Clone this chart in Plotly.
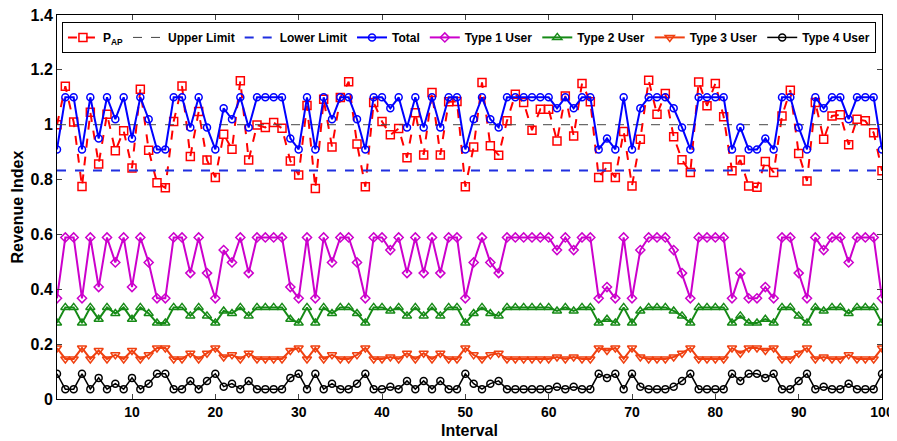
import plotly.graph_objects as go

intervals = list(range(1, 101))

p_ap = [1.00, 1.14, 1.01, 0.775, 1.045, 0.857, 1.038, 0.905, 0.978, 0.842,
        1.129, 0.907, 0.788, 0.77, 1.012, 1.141, 0.884, 1.048, 0.871, 0.808,
        0.965, 0.911, 1.16, 0.871, 0.999, 0.99, 1.008, 0.987, 0.868, 0.817,
        1.07, 0.767, 1.093, 0.919, 1.099, 1.157, 0.93, 0.774, 1.081, 1.012,
        0.963, 0.986, 0.88, 1.044, 0.89, 1.117, 0.89, 1.084, 1.085, 0.774,
        0.919, 1.154, 0.923, 0.889, 1.014, 1.111, 1.081, 0.98, 1.056, 1.056,
        0.941, 1.105, 0.959, 1.15, 1.084, 0.808, 0.846, 0.808, 0.975, 0.777,
        0.947, 1.162, 1.038, 1.114, 0.956, 0.872, 0.826, 1.156, 1.069, 1.15,
        1.029, 0.832, 0.871, 0.777, 0.772, 0.866, 0.826, 1.032, 1.126, 0.895,
        0.795, 1.081, 0.947, 1.032, 1.036, 0.927, 1.02, 1.014, 0.971, 0.832]

total = [0.91, 1.10, 1.10, 0.91, 1.10, 0.95, 1.10, 1.02, 1.10, 0.95,
         1.10, 1.02, 0.91, 0.91, 1.10, 1.10, 0.99, 1.10, 0.99, 0.91,
         1.06, 1.02, 1.10, 0.99, 1.10, 1.10, 1.10, 1.10, 0.95, 0.91,
         1.10, 0.91, 1.10, 1.02, 1.10, 1.10, 1.02, 0.91, 1.10, 1.10,
         1.06, 1.10, 0.99, 1.10, 0.99, 1.10, 0.99, 1.10, 1.10, 0.91,
         1.02, 1.10, 1.02, 0.99, 1.10, 1.10, 1.10, 1.10, 1.10, 1.10,
         1.06, 1.10, 1.06, 1.10, 1.10, 0.91, 0.95, 0.91, 1.10, 0.91,
         1.06, 1.10, 1.10, 1.10, 1.06, 0.99, 0.91, 1.10, 1.10, 1.10,
         1.10, 0.91, 0.99, 0.91, 0.91, 0.95, 0.91, 1.10, 1.10, 0.99,
         0.91, 1.10, 1.06, 1.10, 1.10, 1.02, 1.10, 1.10, 1.10, 0.91]

type1 = [.367, .589, .589, .367, .589, .408, .589, .498, .589, .408,
         .589, .498, .367, .367, .589, .589, .459, .589, .459, .367,
         .543, .498, .589, .459, .589, .589, .589, .589, .408, .367,
         .589, .367, .589, .498, .589, .589, .498, .367, .589, .589,
         .543, .589, .459, .589, .459, .589, .459, .589, .589, .367,
         .498, .589, .498, .459, .589, .589, .589, .589, .589, .589,
         .543, .589, .543, .589, .589, .367, .408, .367, .589, .367,
         .543, .589, .589, .589, .543, .459, .367, .589, .589, .589,
         .589, .367, .459, .367, .367, .408, .367, .589, .589, .459,
         .367, .589, .543, .589, .589, .498, .589, .589, .589, .367]

type2 = [.277, .334, .334, .277, .334, .291, .334, .312, .334, .291,
         .334, .312, .277, .277, .334, .334, .303, .334, .303, .277,
         .321, .312, .334, .303, .334, .334, .334, .334, .291, .277,
         .334, .277, .334, .312, .334, .334, .312, .277, .334, .334,
         .321, .334, .303, .334, .303, .334, .303, .334, .334, .277,
         .312, .334, .312, .303, .334, .334, .334, .334, .334, .334,
         .321, .334, .321, .334, .334, .277, .291, .277, .334, .277,
         .321, .334, .334, .334, .321, .303, .277, .334, .334, .334,
         .334, .277, .303, .277, .277, .291, .277, .334, .334, .303,
         .277, .334, .321, .334, .334, .312, .334, .334, .334, .277]

type3 = [.186, .146, .146, .186, .146, .177, .146, .161, .146, .177,
         .146, .161, .186, .186, .146, .146, .167, .146, .167, .186,
         .153, .161, .146, .167, .146, .146, .146, .146, .177, .186,
         .146, .186, .146, .161, .146, .146, .161, .186, .146, .146,
         .153, .146, .167, .146, .167, .146, .167, .146, .146, .186,
         .161, .146, .161, .167, .146, .146, .146, .146, .146, .146,
         .153, .146, .153, .146, .146, .186, .177, .186, .146, .186,
         .153, .146, .146, .146, .153, .167, .186, .146, .146, .146,
         .146, .186, .167, .186, .186, .177, .186, .146, .146, .167,
         .186, .146, .153, .146, .146, .161, .146, .146, .146, .186]

type4 = [.092, .036, .036, .092, .036, .077, .036, .056, .036, .077,
         .036, .056, .092, .092, .036, .036, .066, .036, .066, .092,
         .045, .056, .036, .066, .036, .036, .036, .036, .077, .092,
         .036, .092, .036, .056, .036, .036, .056, .092, .036, .036,
         .045, .036, .066, .036, .066, .036, .066, .036, .036, .092,
         .056, .036, .056, .066, .036, .036, .036, .036, .036, .036,
         .045, .036, .045, .036, .036, .092, .077, .092, .036, .092,
         .045, .036, .036, .036, .045, .066, .092, .036, .036, .036,
         .036, .092, .066, .092, .092, .077, .092, .036, .036, .066,
         .092, .036, .045, .036, .036, .056, .036, .036, .036, .092]

upper_limit = 1.0
lower_limit = 0.833

x_ticks = [10, 20, 30, 40, 50, 60, 70, 80, 90, 100]
y_ticks = [0, 0.2, 0.4, 0.6, 0.8, 1.0, 1.2, 1.4]
y_tick_labels = ["0", "0.2", "0.4", "0.6", "0.8", "1", "1.2", "1.4"]

fig = go.Figure()

fig.add_trace(go.Scatter(
    x=intervals, y=p_ap, name="P<sub>AP</sub>", mode="lines+markers",
    line=dict(color="#ff0000", width=2, dash="dash"),
    marker=dict(symbol="square-open", size=8, color="#ff0000", line=dict(width=1.5))))
fig.add_trace(go.Scatter(
    x=[intervals[0], intervals[-1]], y=[upper_limit, upper_limit], name="Upper Limit",
    mode="lines", line=dict(color="#444444", width=1, dash="dash")))
fig.add_trace(go.Scatter(
    x=[intervals[0], intervals[-1]], y=[lower_limit, lower_limit], name="Lower Limit",
    mode="lines", line=dict(color="#1f2fe0", width=2, dash="dash")))
fig.add_trace(go.Scatter(
    x=intervals, y=total, name="Total", mode="lines+markers",
    line=dict(color="#0000ff", width=2),
    marker=dict(symbol="circle-open", size=7, color="#0000ff", line=dict(width=1.5))))
fig.add_trace(go.Scatter(
    x=intervals, y=type1, name="Type 1 User", mode="lines+markers",
    line=dict(color="#cc00cc", width=2),
    marker=dict(symbol="diamond-open", size=7, color="#cc00cc", line=dict(width=1.5))))
fig.add_trace(go.Scatter(
    x=intervals, y=type2, name="Type 2 User", mode="lines+markers",
    line=dict(color="#168a16", width=2),
    marker=dict(symbol="triangle-up-open", size=8, color="#168a16", line=dict(width=1.5))))
fig.add_trace(go.Scatter(
    x=intervals, y=type3, name="Type 3 User", mode="lines+markers",
    line=dict(color="#f04010", width=2),
    marker=dict(symbol="triangle-down-open", size=8, color="#f04010", line=dict(width=1.5))))
fig.add_trace(go.Scatter(
    x=intervals, y=type4, name="Type 4 User", mode="lines+markers",
    line=dict(color="#000000", width=1.5),
    marker=dict(symbol="circle-open", size=7, color="#000000", line=dict(width=1.5))))

# The page adds an 8px body margin, so margins are shifted to put the plot box
# at x 57..882, y 15..399 in the window.
fig.update_layout(
    width=897, height=441,
    margin=dict(l=49, r=23, t=7, b=50, autoexpand=False),
    paper_bgcolor="white", plot_bgcolor="white",
    font=dict(family="Liberation Sans, Arial, sans-serif", color="black"),
    showlegend=True,
    legend=dict(orientation="h", x=0.006, y=0.982, xanchor="left", yanchor="top",
                bgcolor="white", bordercolor="black", borderwidth=1,
                font=dict(size=12, family="Liberation Sans, Arial, sans-serif", weight="bold"),
                itemwidth=30, tracegroupgap=0),
    xaxis=dict(range=[1, 100], tickmode="array", tickvals=x_ticks, automargin=False,
               ticks="inside", ticklen=5, showline=True, linecolor="black", linewidth=1,
               mirror="allticks", showgrid=False, zeroline=False, ticklabelstandoff=0,
               ticklabeloverflow="allow",
               tickfont=dict(size=14, weight="bold")),
    yaxis=dict(range=[0, 1.4], tickmode="array", tickvals=y_ticks, ticktext=y_tick_labels,
               automargin=False, ticklabeloverflow="allow",
               ticks="inside", ticklen=5, showline=True, linecolor="black", linewidth=1,
               mirror="allticks", showgrid=False, zeroline=False,
               tickfont=dict(size=16, weight="bold")),
    annotations=[
        dict(text="Interval", xref="paper", yref="paper", x=0.5, y=-0.081,
             xanchor="center", yanchor="middle", showarrow=False,
             font=dict(size=16, weight="bold")),
        dict(text="Revenue Index", xref="paper", yref="paper", x=-0.049, y=0.5,
             xanchor="center", yanchor="middle", showarrow=False, textangle=-90,
             font=dict(size=16, weight="bold")),
    ],
)

fig.write_html("out.html")
